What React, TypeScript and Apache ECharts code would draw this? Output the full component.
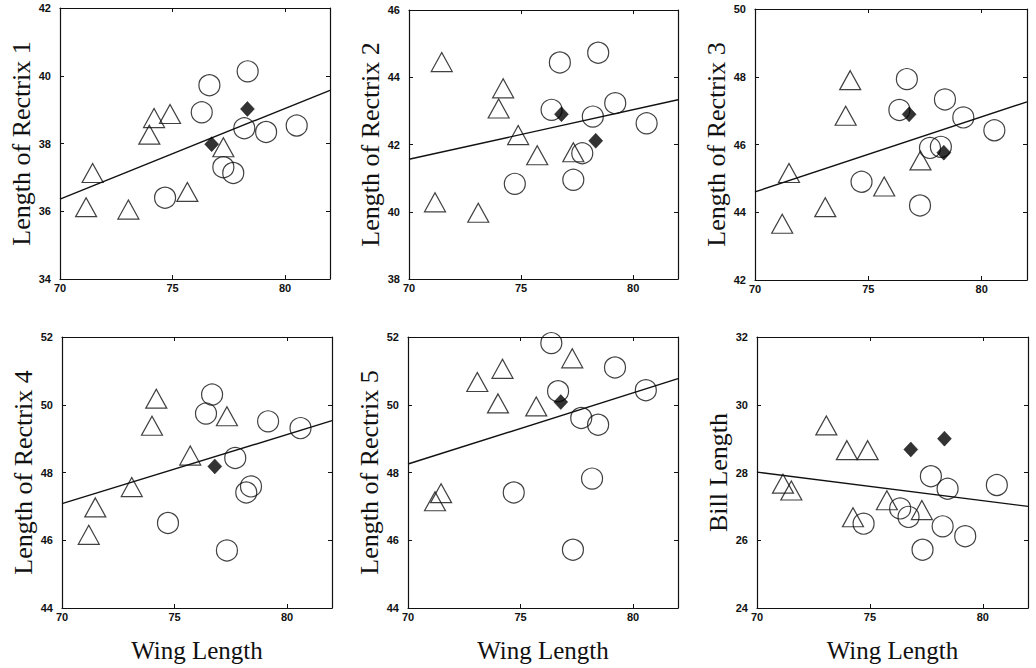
import React, { useEffect, useRef } from "react";
import * as echarts from "echarts";

// ---- data ----
const xMin = 70;
const xMax = 82;
const xInterval = 5;
const yTitles = [
  "Length of Rectrix 1",
  "Length of Rectrix 2",
  "Length of Rectrix 3",
  "Length of Rectrix 4",
  "Length of Rectrix 5",
  "Bill Length",
];
const yMins = [34, 38, 42, 44, 44, 24];
const yMaxs = [42, 46, 50, 52, 52, 32];
const yInterval = 2;
const xTitle = "Wing Length";

const tri1 = [[71.16, 36.12], [71.45, 37.13], [73.04, 36.05], [73.97, 38.26], [74.18, 38.75], [74.89, 38.87], [75.66, 36.57], [77.26, 37.89]];
const cir1 = [[74.67, 36.4], [76.3, 38.92], [76.64, 39.72], [77.26, 37.3], [77.7, 37.13], [78.19, 38.45], [78.34, 40.13], [79.16, 38.34], [80.52, 38.53]];
const dia1 = [[76.74, 37.98], [78.33, 39.02]];
const fit1 = [[70, 36.36], [82, 39.57]];

const tri2 = [[71.16, 40.28], [71.46, 44.45], [73.09, 39.97], [74.0, 43.07], [74.2, 43.67], [74.87, 42.28], [75.72, 41.68], [77.33, 41.77]];
const cir2 = [[74.72, 40.83], [76.36, 43.03], [76.73, 44.44], [77.33, 40.95], [77.73, 41.74], [78.2, 42.83], [78.44, 44.73], [79.2, 43.23], [80.6, 42.63]];
const dia2 = [[76.8, 42.9], [78.33, 42.11]];
const fit2 = [[70, 41.56], [82, 43.33]];

const tri3 = [[71.2, 43.66], [71.5, 45.16], [73.1, 44.15], [74.0, 46.85], [74.2, 47.9], [75.7, 44.76], [77.3, 45.53]];
const cir3 = [[74.7, 44.9], [76.37, 47.02], [76.7, 47.93], [77.28, 44.2], [77.72, 45.9], [78.2, 45.93], [78.38, 47.33], [79.19, 46.8], [80.56, 46.42]];
const dia3 = [[76.8, 46.89], [78.33, 45.76]];
const fit3 = [[70, 44.6], [82, 47.26]];

const tri4 = [[71.19, 46.16], [71.48, 46.97], [73.1, 47.57], [74.0, 49.38], [74.19, 50.18], [75.7, 48.5], [77.33, 49.66]];
const cir4 = [[74.71, 46.51], [76.4, 49.74], [76.67, 50.3], [77.33, 45.7], [77.7, 48.43], [78.19, 47.41], [78.4, 47.59], [79.16, 49.51], [80.6, 49.31]];
const dia4 = [[76.79, 48.18]];
const fit4 = [[70, 47.08], [82, 49.53]];

const tri5 = [[71.2, 47.15], [71.47, 47.39], [73.08, 50.67], [74.0, 50.04], [74.2, 51.06], [75.7, 49.95], [77.3, 51.37]];
const cir5 = [[74.7, 47.41], [76.37, 51.82], [76.67, 50.4], [77.33, 45.72], [77.7, 49.61], [78.18, 47.82], [78.45, 49.41], [79.2, 51.1], [80.57, 50.43]];
const dia5 = [[76.79, 50.08]];
const fit5 = [[70, 48.25], [82, 50.77]];

const tri6 = [[71.15, 27.67], [71.52, 27.47], [73.07, 29.39], [73.98, 28.66], [74.25, 26.68], [74.9, 28.66], [75.75, 27.18], [77.3, 26.89]];
const cir6 = [[74.72, 26.49], [76.34, 26.94], [76.71, 26.69], [77.33, 25.72], [77.7, 27.89], [78.22, 26.41], [78.44, 27.52], [79.22, 26.12], [80.62, 27.63]];
const dia6 = [[76.81, 28.68], [78.3, 29.0]];
const fit6 = [[70, 28.01], [82, 27.0]];

const triangles = [tri1, tri2, tri3, tri4, tri5, tri6];
const circles = [cir1, cir2, cir3, cir4, cir5, cir6];
const diamonds = [dia1, dia2, dia3, dia4, dia5, dia6];
const fits = [fit1, fit2, fit3, fit4, fit5, fit6];

// ---- layout ----
const gridRects = [
  { left: 60, top: 8, width: 270, height: 271 },
  { left: 409, top: 10, width: 269, height: 269 },
  { left: 755, top: 9, width: 272, height: 271 },
  { left: 62, top: 337, width: 270, height: 271 },
  { left: 408, top: 337, width: 270, height: 271 },
  { left: 757, top: 337, width: 271, height: 271 },
];

const INK = "#111";
const labelStyle = {
  fontFamily: "Liberation Sans, Arial, sans-serif",
  fontWeight: "bold" as const,
  fontSize: 11,
  color: INK,
};

function buildOption() {
  const grid: any[] = [];
  const xAxis: any[] = [];
  const yAxis: any[] = [];
  const series: any[] = [];
  for (let i = 0; i < 6; i++) {
    const r = gridRects[i];
    grid.push({ ...r, containLabel: false, show: false });
    const bottomRow = i >= 3;
    const common = {
      gridIndex: i,
      type: "value",
      axisLine: { show: true, onZero: false, lineStyle: { color: INK, width: 1.2 } },
      splitLine: { show: false },
    };
    xAxis.push({
      ...common,
      position: "bottom",
      min: xMin,
      max: xMax,
      interval: xInterval,
      axisTick: { show: true, inside: true, length: 4, lineStyle: { color: INK } },
      axisLabel: { ...labelStyle, margin: 3, showMaxLabel: false },
      name: bottomRow ? xTitle : "",
      nameLocation: "middle",
      nameGap: 30,
      nameTextStyle: { fontFamily: "Liberation Serif, Times New Roman, serif", fontSize: 25, color: INK },
    });
    xAxis.push({
      ...common,
      position: "top",
      min: xMin,
      max: xMax,
      interval: xInterval,
      axisTick: { show: true, inside: true, length: 4, lineStyle: { color: INK } },
      axisLabel: { show: false },
    });
    yAxis.push({
      ...common,
      position: "left",
      min: yMins[i],
      max: yMaxs[i],
      interval: yInterval,
      axisTick: { show: true, inside: true, length: 4, lineStyle: { color: INK } },
      axisLabel: { ...labelStyle, margin: 9 },
      name: yTitles[i],
      nameLocation: "middle",
      nameRotate: 90,
      nameGap: 26,
      nameTextStyle: { fontFamily: "Liberation Serif, Times New Roman, serif", fontSize: 26, color: INK },
    });
    yAxis.push({
      ...common,
      position: "right",
      min: yMins[i],
      max: yMaxs[i],
      interval: yInterval,
      axisTick: { show: true, inside: true, length: 4, lineStyle: { color: INK } },
      axisLabel: { show: false },
    });
    const xi = i * 2;
    const yi = i * 2;
    series.push({
      type: "line",
      xAxisIndex: xi,
      yAxisIndex: yi,
      data: fits[i],
      symbol: "none",
      lineStyle: { color: INK, width: 1.4 },
      silent: true,
      z: 2,
    });
    series.push({
      type: "scatter",
      xAxisIndex: xi,
      yAxisIndex: yi,
      data: triangles[i],
      symbol: "triangle",
      symbolSize: [21, 19],
      itemStyle: { color: "rgba(0,0,0,0)", borderColor: INK, borderWidth: 1.2 },
      z: 3,
    });
    series.push({
      type: "scatter",
      xAxisIndex: xi,
      yAxisIndex: yi,
      data: circles[i],
      symbol: "circle",
      symbolSize: 21,
      itemStyle: { color: "rgba(0,0,0,0)", borderColor: INK, borderWidth: 1.2 },
      z: 3,
    });
    series.push({
      type: "scatter",
      xAxisIndex: xi,
      yAxisIndex: yi,
      data: diamonds[i],
      symbol: "diamond",
      symbolSize: [14, 15],
      itemStyle: { color: "#000", borderColor: "#000", borderWidth: 0.5 },
      z: 4,
    });
  }
  return {
    animation: false,
    backgroundColor: "#fff",
    grid,
    xAxis,
    yAxis,
    series,
  };
}

export default function App() {
  const ref = useRef<HTMLDivElement>(null);
  useEffect(() => {
    if (!ref.current) return;
    const chart = echarts.init(ref.current, undefined, { renderer: "svg" });
    chart.setOption(buildOption() as any);
    return () => chart.dispose();
  }, []);
  return (
    <div
      ref={ref}
      style={{ position: "fixed", left: 0, top: 0, width: 1036, height: 668, background: "#fff" }}
    />
  );
}
